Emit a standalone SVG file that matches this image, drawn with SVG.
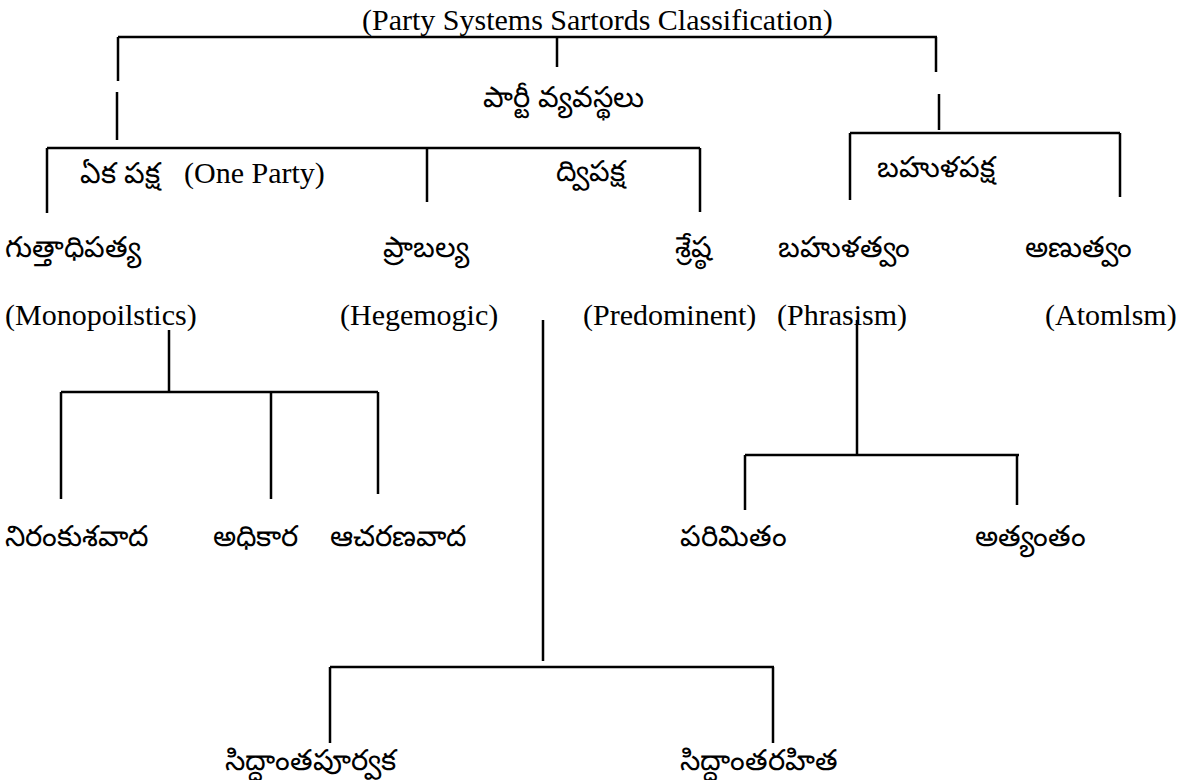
<svg xmlns="http://www.w3.org/2000/svg" width="1203" height="780" viewBox="0 0 1203 780">
<style>
.en{font-family:"Liberation Serif","Times New Roman",serif;font-size:30px;fill:#000}
.te{font-family:"Noto Sans","DejaVu Sans",sans-serif;font-size:29px;fill:#000}
.ln{stroke:#000;stroke-width:2.5;fill:none}
</style>
<rect width="1203" height="780" fill="#fff"/>
<g id="connectors" class="ln">
<path d="M118 37H937M557 37V67M118 37V81M117 92V140M936 37V72M939 94V130"/>
<path d="M47 148H700M47 148V213M427 148V202M700 148V212"/>
<path d="M850 133H1120M850 133V200M1120 133V197"/>
<path d="M169 330V392M61 392H378M61 392V499M271 392V499M378 392V494"/>
<path d="M543 320V661M330 667H774M330 667V743M773 667V743"/>
<path d="M857 320V455M745 455H1019M745 455V510M1017 455V505"/>
</g>
<g id="title"><text class="en" x="362" y="30">(Party Systems Sartords Classification)</text></g>
<g id="n-party"><text class="te" x="483" y="107">పార్టీ వ్యవస్థలు</text></g>
<g id="n-oneparty"><text class="te" x="80" y="183">ఏక పక్ష</text><text class="en" x="184" y="183">(One Party)</text></g>
<g id="n-two"><text class="te" x="556" y="181">ద్విపక్ష</text></g>
<g id="n-multi"><text class="te" x="877" y="177">బహుళపక్ష</text></g>
<g id="n-mono"><text class="te" x="5" y="257">గుత్తాధిపత్య</text><text class="en" x="5" y="325">(Monopoilstics)</text></g>
<g id="n-hege"><text class="te" x="383" y="257">ప్రాబల్య</text><text class="en" x="340" y="325">(Hegemogic)</text></g>
<g id="n-pred"><text class="te" x="675" y="257">శ్రేష్ఠ</text><text class="en" x="583" y="325">(Predominent)</text></g>
<g id="n-phra"><text class="te" x="778" y="257">బహుళత్వం</text><text class="en" x="777" y="325">(Phrasism)</text></g>
<g id="n-atom"><text class="te" x="1025" y="257">అణుత్వం</text><text class="en" x="1045" y="325">(Atomlsm)</text></g>
<g id="n-nir"><text class="te" x="5" y="546">నిరంకుశవాద</text></g>
<g id="n-adhi"><text class="te" x="213" y="546">అధికార</text></g>
<g id="n-acha"><text class="te" x="330" y="546">ఆచరణవాద</text></g>
<g id="n-pari"><text class="te" x="680" y="546">పరిమితం</text></g>
<g id="n-atya"><text class="te" x="975" y="546">అత్యంతం</text></g>
<g id="n-sidp"><text class="te" x="225" y="770">సిద్ధాంతపూర్వక</text></g>
<g id="n-sidr"><text class="te" x="680" y="770">సిద్ధాంతరహిత</text></g>
</svg>
